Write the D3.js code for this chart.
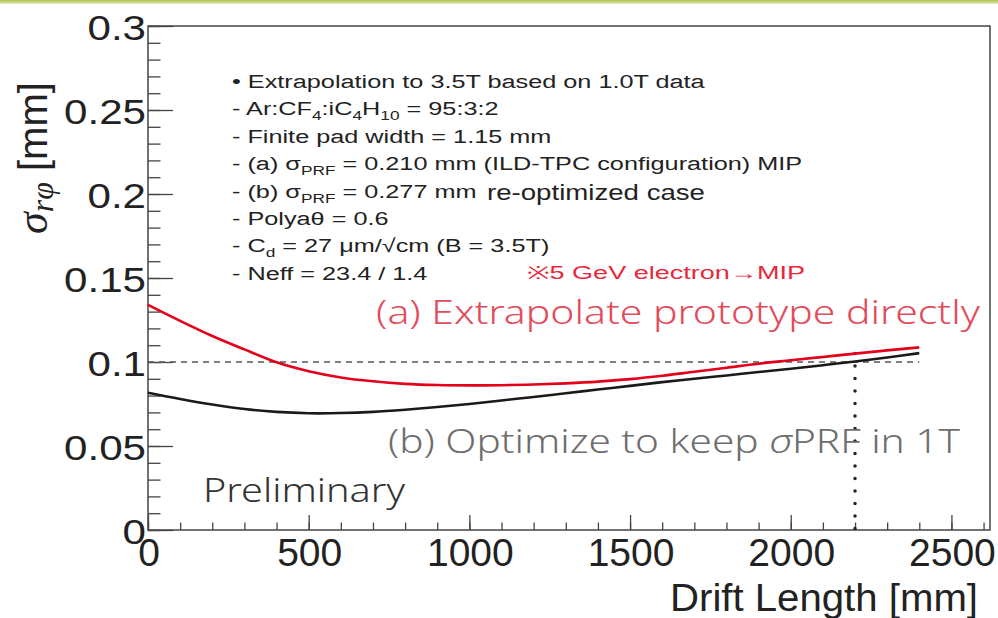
<!DOCTYPE html>
<html>
<head>
<meta charset="utf-8">
<script src="https://cdn.jsdelivr.net/npm/d3@7"></script>
<style>
  html, body { margin: 0; padding: 0; background: #fff; }
  svg { display: block; }
  text { font-family: "Liberation Sans", Arial, Helvetica, sans-serif; }
</style>
</head>
<body>
<svg id="chart" width="998" height="618"></svg>
<script>
// ---------- data ----------
const driftLength = [0,100,200,300,400,500,600,700,800,900,1000,1100,1200,1300,1400,1500,1600,1700,1800,1900,2000,2100,2200,2300,2400];
// (a) Extrapolate prototype directly (red)
const sigmaA = [0.134,0.1245,0.1155,0.1075,0.0998,0.0945,0.0908,0.0885,0.0870,0.0863,0.0861,0.0862,0.0866,0.0873,0.0883,0.0898,0.0918,0.0942,0.0966,0.0990,0.1010,0.1030,0.1050,0.1069,0.1087];
// (b) Optimize to keep sigma PRF in 1T (black)
const sigmaB = [0.0817,0.0780,0.0747,0.0720,0.0703,0.0695,0.0696,0.0703,0.0716,0.0732,0.0750,0.0771,0.0792,0.0814,0.0836,0.0858,0.0880,0.0900,0.0920,0.0940,0.0960,0.0981,0.1003,0.1027,0.1053];
const yTickValues = [0,0.05,0.1,0.15,0.2,0.25,0.3];
const yTickLabels = ["0","0.05","0.1","0.15","0.2","0.25","0.3"];
const xTickValues = [0,500,1000,1500,2000,2500];
const xTickLabels = ["0","500","1000","1500","2000","2500"];
const refLevel = 0.1;
const refDrift = 2200;
const refTop = 0.105;
const infoLines = [
  [{t:"\u2022 Extrapolation to 3.5T based on 1.0T data"}],
  [{t:"- Ar:CF"},{t:"4",sub:1},{t:":iC"},{t:"4",sub:1},{t:"H"},{t:"10",sub:1},{t:" = 95:3:2"}],
  [{t:"- Finite pad width = 1.15 mm"}],
  [{t:"- (a) \u03c3"},{t:"PRF",sub:1},{t:" = 0.210 mm (ILD-TPC configuration) MIP"}],
  [{t:"- (b) \u03c3"},{t:"PRF",sub:1},{t:" = 0.277 mm"}],
  [{t:"- Polya\u03b8 = 0.6"}],
  [{t:"- C"},{t:"d",sub:1},{t:" = 27 \u03bcm/\u221acm (B = 3.5T)"}],
  [{t:"- Neff = 23.4  / 1.4"}]
];

// ---------- layout ----------
const svg = d3.select("#chart");
const L = 148, R = 990, T = 26, B = 530;
const x = d3.scaleLinear().domain([0, 2620]).range([L, R]);
const y = d3.scaleLinear().domain([0, 0.3]).range([B, T]);

// top decorative bar
const grad = svg.append("defs").append("linearGradient").attr("id","topbar").attr("x1",0).attr("x2",0).attr("y1",0).attr("y2",1);
grad.append("stop").attr("offset","0%").attr("stop-color","#a9c24a");
grad.append("stop").attr("offset","100%").attr("stop-color","#e4edc0");
svg.append("rect").attr("x",0).attr("y",0).attr("width",998).attr("height",4).attr("fill","url(#topbar)");

// frame
svg.append("rect").attr("x",L).attr("y",T).attr("width",R-L).attr("height",B-T)
  .attr("fill","none").attr("stroke","#444").attr("stroke-width",1.5);

// y ticks (inward)
const yMinor = d3.range(0, 0.3001, 0.01).map(v => +v.toFixed(3));
const yAxMinor = svg.append("g").attr("transform",`translate(${L},0)`)
  .call(d3.axisRight(y).tickValues(yMinor).tickSize(12.5).tickFormat(""));
const yAxMajor = svg.append("g").attr("transform",`translate(${L},0)`)
  .call(d3.axisRight(y).tickValues(yTickValues).tickSize(25).tickFormat(""));
// x ticks (inward)
const xMinor = d3.range(0, 2601, 100);
const xAxMinor = svg.append("g").attr("transform",`translate(0,${B})`)
  .call(d3.axisTop(x).tickValues(xMinor).tickSize(7.5).tickFormat(""));
const xAxMajor = svg.append("g").attr("transform",`translate(0,${B})`)
  .call(d3.axisTop(x).tickValues(xTickValues).tickSize(15).tickFormat(""));
[yAxMinor,yAxMajor,xAxMinor,xAxMajor].forEach(g => {
  g.select(".domain").remove();
  g.selectAll("line").attr("stroke","#444").attr("stroke-width",1.3);
});

// y tick labels
yTickValues.forEach((v,i) => {
  svg.append("text")
    .attr("transform",`translate(146,${y(v)+13.5}) scale(1.17,1)`)
    .attr("text-anchor","end").attr("font-size",36).attr("fill","#222")
    .text(yTickLabels[i]);
});
// x tick labels
xTickValues.forEach((v,i) => {
  svg.append("text")
    .attr("x", x(v)+1).attr("y", 566)
    .attr("text-anchor","middle").attr("font-size",39).attr("fill","#222")
    .text(xTickLabels[i]);
});

// axis titles
svg.append("text").attr("x",978).attr("y",611).attr("text-anchor","end")
  .attr("font-size",38).attr("fill","#222").attr("textLength",308).attr("lengthAdjust","spacingAndGlyphs")
  .text("Drift Length [mm]");

const yt = svg.append("text").attr("transform","translate(47,234) rotate(-90)")
  .attr("font-size",40).attr("fill","#222");
yt.append("tspan").attr("font-family","'Liberation Serif','DejaVu Serif',serif").attr("font-style","italic").attr("font-size",44).text("\u03c3");
yt.append("tspan").attr("font-family","'Liberation Serif','DejaVu Serif',serif").attr("font-style","italic").attr("font-size",32).attr("dy",6).text("r\u03c6");
yt.append("tspan").attr("dy",-6).text("  [mm]");

// reference lines
svg.append("line").attr("x1",x(0)).attr("x2",x(2400)).attr("y1",y(refLevel)).attr("y2",y(refLevel))
  .attr("stroke","#555").attr("stroke-width",1.5).attr("stroke-dasharray","6,5");
svg.append("line").attr("x1",x(refDrift)).attr("x2",x(refDrift)).attr("y1",y(refTop)).attr("y2",y(0))
  .attr("stroke","#222").attr("stroke-width",3.5).attr("stroke-linecap","round").attr("stroke-dasharray","0,12.5");

// curves
const line = d3.line().x((d,i) => x(driftLength[i])).y(d => y(d)).curve(d3.curveCatmullRom);
svg.append("path").datum(sigmaB).attr("d",line).attr("fill","none").attr("stroke","#1a1a1a").attr("stroke-width",2.6);
svg.append("path").datum(sigmaA).attr("d",line).attr("fill","none").attr("stroke","#e3001b").attr("stroke-width",2.6);

// info box
const info = svg.append("g").attr("transform","translate(232,0) scale(1.33,1)");
infoLines.forEach((segs, i) => {
  const t = info.append("text").attr("x",0).attr("y",88 + i*27.4).attr("font-size",19).attr("fill","#222");
  let shifted = false;
  segs.forEach(s => {
    const ts = t.append("tspan").text(s.t);
    if (s.sub && !shifted) { ts.attr("dy",5).attr("font-size",13); shifted = true; }
    else if (s.sub) { ts.attr("font-size",13); }
    else if (!s.sub && shifted) { ts.attr("dy",-5); shifted = false; }
  });
});
svg.append("text").attr("x",487).attr("y",200).attr("font-size",22).attr("fill","#222")
  .attr("textLength",218).attr("lengthAdjust","spacingAndGlyphs").text("re-optimized case");
svg.append("text").attr("x",527).attr("y",279).attr("font-size",18).attr("fill","#e8283a")
  .attr("textLength",278).attr("lengthAdjust","spacingAndGlyphs").text("\u203b5 GeV electron\u2192MIP");

// annotations
svg.append("text").attr("x",376).attr("y",324).attr("font-size",33).attr("fill","#e34b5b")
  .style("font-family","'Noto Sans','Open Sans',sans-serif").style("font-weight",300)
  .attr("textLength",604).attr("lengthAdjust","spacingAndGlyphs").text("(a)  Extrapolate prototype directly");
const tb = svg.append("text").attr("x",388).attr("y",453).attr("font-size",33).attr("fill","#6e6e6e")
  .style("font-family","'Noto Sans','Open Sans',sans-serif").style("font-weight",300)
  .attr("textLength",572).attr("lengthAdjust","spacingAndGlyphs");
tb.append("tspan").text("(b)  Optimize to keep ");
tb.append("tspan").style("font-style","italic").text("\u03c3");
tb.append("tspan").text("PRF in 1T");
svg.append("text").attr("x",203).attr("y",502).attr("font-size",33).attr("fill","#333")
  .style("font-family","'Noto Sans','Open Sans',sans-serif").style("font-weight",300)
  .attr("textLength",202).attr("lengthAdjust","spacingAndGlyphs").text("Preliminary");
</script>
</body>
</html>
